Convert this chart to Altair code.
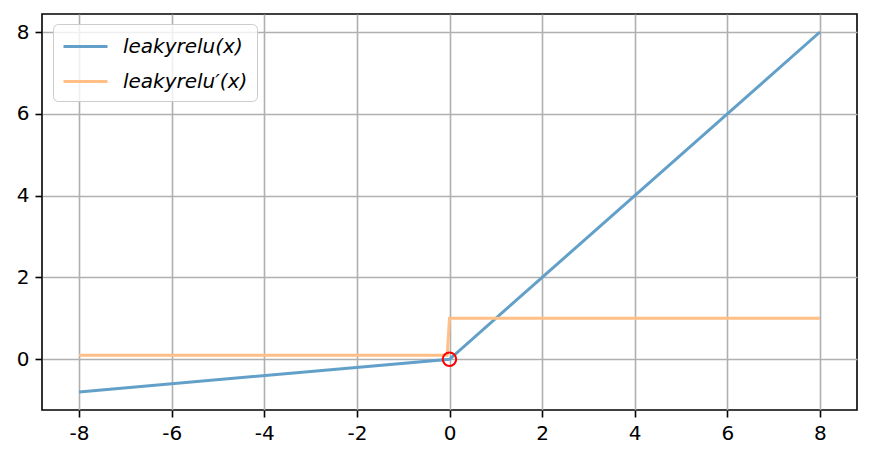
import altair as alt
import pandas as pd

# leakyrelu(x) = max(0.1x, x)
f_x = [-8.0, 0.0, 8.0]
f_y = [-0.8, 0.0, 8.0]
# derivative (sampled, step at 0)
d_x = [-8.0, -0.05, 0.0, 8.0]
d_y = [0.1, 0.1, 1.0, 1.0]
# highlighted point
p_x = [0.0]
p_y = [0.0]

names = ["leakyrelu(x)", "leakyrelu\u2032(x)"]
colors = ["#62a0ca", "#ffbf86"]
x_ticks = [-8, -6, -4, -2, 0, 2, 4, 6, 8]
y_ticks = [0, 2, 4, 6, 8]

df = pd.DataFrame(
    {
        "x": f_x + d_x,
        "y": f_y + d_y,
        "series": [names[0]] * len(f_x) + [names[1]] * len(d_x),
        "order": list(range(len(f_x))) + list(range(len(d_x))),
    }
)
pts = pd.DataFrame({"x": p_x, "y": p_y})

xscale = alt.Scale(domain=[-8.8, 8.8], nice=False, zero=False)
yscale = alt.Scale(domain=[-1.24, 8.44], nice=False, zero=False)

xaxis = alt.Axis(
    values=x_ticks, title=None, labelExpr="toString(datum.value)", domain=False
)
yaxis = alt.Axis(
    values=y_ticks, title=None, labelExpr="toString(datum.value)", domain=False
)

lines = (
    alt.Chart(df)
    .mark_line(strokeWidth=3)
    .encode(
        x=alt.X("x:Q", scale=xscale, axis=xaxis),
        y=alt.Y("y:Q", scale=yscale, axis=yaxis),
        color=alt.Color(
            "series:N",
            scale=alt.Scale(domain=names, range=colors),
            sort=names,
            legend=alt.Legend(
                title=None,
                orient="none",
                legendX=11,
                legendY=10,
                symbolType="M-1,0H2.667",
                symbolSize=576,
                symbolStrokeWidth=3,
                labelFontSize=20,
                labelFontStyle="italic",
                labelFont="DejaVu Sans",
                labelColor="black",
                labelOffset=34,
                rowPadding=11,
                padding=9,
                strokeColor="#cccccc",
                fillColor="rgba(255,255,255,0.8)",
                cornerRadius=5,
            ),
        ),
        detail="series:N",
        order="order:Q",
    )
)

point = (
    alt.Chart(pts)
    .mark_point(shape="circle", filled=False, color="red", size=180, strokeWidth=2, opacity=1)
    .encode(x=alt.X("x:Q", scale=xscale), y=alt.Y("y:Q", scale=yscale))
)

chart = (
    alt.layer(lines, point)
    .properties(
        width=815,
        height=396,
        autosize=alt.AutoSizeParams(type="none"),
        padding={"left": 34, "top": 6, "right": 6, "bottom": 40},
        background="white",
    )
    .configure_view(stroke="black", strokeWidth=1.6)
    .configure_axis(
        grid=True,
        gridColor="#b0b0b0",
        gridWidth=1.6,
        tickColor="black",
        tickWidth=1.6,
        tickSize=7,
        labelFontSize=20,
        labelFont="DejaVu Sans",
        labelColor="black",
        labelPadding=6,
    )
)

chart.save("out.html", embed_options={"renderer": "svg", "actions": False})
